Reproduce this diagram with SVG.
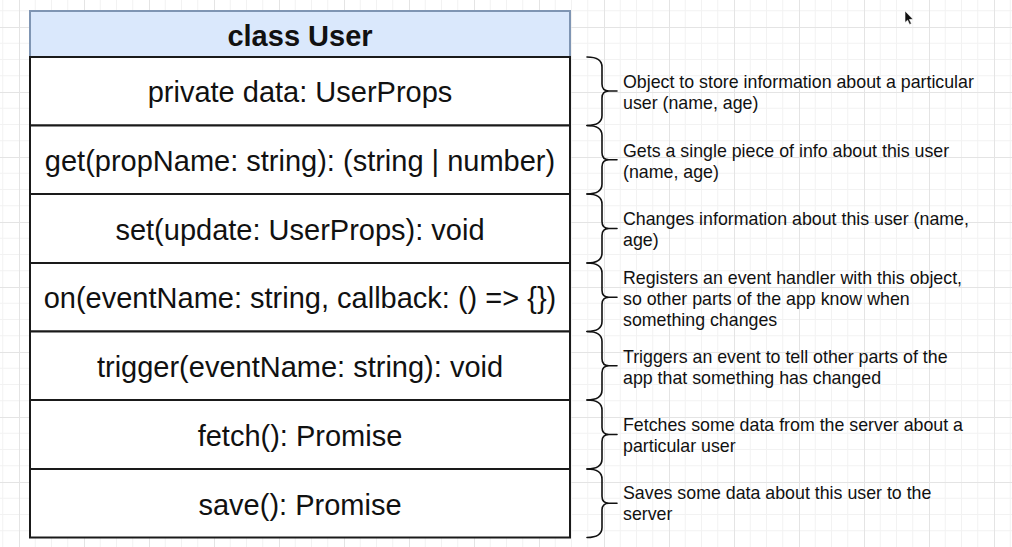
<svg xmlns="http://www.w3.org/2000/svg" width="1012" height="547" viewBox="0 0 1012 547">
  <defs>
    <pattern id="grid" x="19" y="27" width="65" height="65" patternUnits="userSpaceOnUse">
      <path d="M16.25,0V65M32.5,0V65M48.75,0V65M0,16.25H65M0,32.5H65M0,48.75H65" fill="none" stroke="#f2f2f2" stroke-width="1"/>
      <path d="M0.5,0V65M0,0.5H65" fill="none" stroke="#e4e4e4" stroke-width="1"/>
    </pattern>
    <style>
      .row { fill: #ffffff; stroke: #1a1a1a; stroke-width: 2; }
      .hdr { fill: #dae8fc; stroke: #7f95b3; stroke-width: 2; }
      .m { font-family: "Liberation Sans", Arial, sans-serif; font-size: 29px; fill: #111; text-anchor: middle; }
      .h { font-family: "Liberation Sans", Arial, sans-serif; font-size: 29px; font-weight: bold; fill: #111; text-anchor: middle; }
      .d { font-family: "Liberation Sans", Arial, sans-serif; font-size: 17.8px; fill: #111; }
      .brace { fill: none; stroke: #111; stroke-width: 1.6; stroke-linejoin: round; stroke-linecap: round; }
    </style>
  </defs>
  <rect width="1012" height="547" fill="#ffffff"/>
  <rect width="1012" height="547" fill="url(#grid)"/>

  <g id="class-User">
    <g id="header">
      <rect class="hdr" x="30" y="11" width="540" height="46"/>
      <text class="h" x="300" y="46">class User</text>
    </g>
    <g id="row-data">
      <rect class="row" x="30" y="57" width="540" height="68.5"/>
      <text class="m" x="300" y="102">private data: UserProps</text>
    </g>
    <g id="row-get">
      <rect class="row" x="30" y="125.5" width="540" height="68.5"/>
      <text class="m" x="300" y="171">get(propName: string): (string | number)</text>
    </g>
    <g id="row-set">
      <rect class="row" x="30" y="194" width="540" height="69"/>
      <text class="m" x="300" y="240">set(update: UserProps): void</text>
    </g>
    <g id="row-on">
      <rect class="row" x="30" y="263" width="540" height="68.5"/>
      <text class="m" x="300" y="308">on(eventName: string, callback: () =&gt; {})</text>
    </g>
    <g id="row-trigger">
      <rect class="row" x="30" y="331.5" width="540" height="68.5"/>
      <text class="m" x="300" y="377">trigger(eventName: string): void</text>
    </g>
    <g id="row-fetch">
      <rect class="row" x="30" y="400" width="540" height="69"/>
      <text class="m" x="300" y="446">fetch(): Promise</text>
    </g>
    <g id="row-save">
      <rect class="row" x="30" y="469" width="540" height="68.5"/>
      <text class="m" x="300" y="515">save(): Promise</text>
    </g>
  </g>

  <g id="connectors">
    <path class="brace" d="M587,57 Q602,57 602,67 V84 Q602,91 609,91 H617 M609,91 Q602,91 602,98 V115.5 Q602,125.5 587,125.5"/>
    <path class="brace" d="M587,125.5 Q602,125.5 602,135.5 V152.75 Q602,159.75 609,159.75 H617 M609,159.75 Q602,159.75 602,166.75 V184 Q602,194 587,194"/>
    <path class="brace" d="M587,194 Q602,194 602,204 V221.5 Q602,228.5 609,228.5 H617 M609,228.5 Q602,228.5 602,235.5 V253 Q602,263 587,263"/>
    <path class="brace" d="M587,263 Q602,263 602,273 V290.25 Q602,297.25 609,297.25 H617 M609,297.25 Q602,297.25 602,304.25 V321.5 Q602,331.5 587,331.5"/>
    <path class="brace" d="M587,331.5 Q602,331.5 602,341.5 V358.75 Q602,365.75 609,365.75 H617 M609,365.75 Q602,365.75 602,372.75 V390 Q602,400 587,400"/>
    <path class="brace" d="M587,400 Q602,400 602,410 V427.5 Q602,434.5 609,434.5 H617 M609,434.5 Q602,434.5 602,441.5 V459 Q602,469 587,469"/>
    <path class="brace" d="M587,469 Q602,469 602,479 V496.25 Q602,503.25 609,503.25 H617 M609,503.25 Q602,503.25 602,510.25 V527.5 Q602,537.5 587,537.5"/>
  </g>

  <g id="note-data">
    <text class="d" x="623" y="88">Object to store information about a particular</text>
    <text class="d" x="623" y="109">user (name, age)</text>
  </g>
  <g id="note-get">
    <text class="d" x="623" y="157">Gets a single piece of info about this user</text>
    <text class="d" x="623" y="178">(name, age)</text>
  </g>
  <g id="note-set">
    <text class="d" x="623" y="225">Changes information about this user (name,</text>
    <text class="d" x="623" y="246">age)</text>
  </g>
  <g id="note-on">
    <text class="d" x="623" y="284">Registers an event handler with this object,</text>
    <text class="d" x="623" y="305">so other parts of the app know when</text>
    <text class="d" x="623" y="326">something changes</text>
  </g>
  <g id="note-trigger">
    <text class="d" x="623" y="363">Triggers an event to tell other parts of the</text>
    <text class="d" x="623" y="384">app that something has changed</text>
  </g>
  <g id="note-fetch">
    <text class="d" x="623" y="431">Fetches some data from the server about a</text>
    <text class="d" x="623" y="452">particular user</text>
  </g>
  <g id="note-save">
    <text class="d" x="623" y="499">Saves some data about this user to the</text>
    <text class="d" x="623" y="520">server</text>
  </g>

  <path d="M905,11 L905,22.5 L907.6,20.2 L909.6,24.5 L911.4,23.6 L909.4,19.5 L913,19.3 Z" fill="#111" stroke="#fff" stroke-width="0.6"/>
</svg>
